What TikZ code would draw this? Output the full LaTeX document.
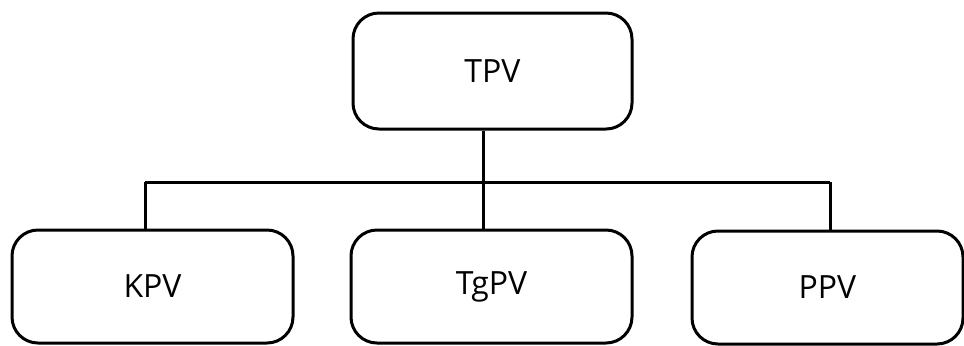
\documentclass[tikz,border=0pt]{standalone}
\usepackage{fontspec}
\setmainfont{Open Sans}
\usepackage{tikz}
\usetikzlibrary{positioning}

\begin{document}
\begin{tikzpicture}[
  x=0.5pt, y=-0.5pt,
  box/.style={draw,line width=1.5pt,rounded corners=13pt,align=center,inner sep=0pt,font=\fontsize{16}{19}\selectfont},
  topbox/.style={box,minimum width=139.5pt,minimum height=58pt},
  leafbox/.style={box,minimum width=140.5pt,minimum height=56.5pt},
  link/.style={line width=1.5pt}
]
\useasboundingbox (0,0) rectangle (964,345);
\node[topbox] (tpv) at (492.5,71) {TPV};
\node[leafbox] (kpv) at (152.5,286.5) {KPV};
\node[leafbox] (tgpv) at (491.5,286.5) {TgPV};
\node[leafbox,minimum width=135.5pt] (ppv) at (827.5,287.5) {PPV};
% bus line
\coordinate (jl) at (145,182);
\coordinate (jm) at (483,182);
\coordinate (jr) at (830,182);
\draw[link] (jl) -- (jr);
\draw[link] (tpv.south -| jm) -- (tgpv.north -| jm);
\foreach \j/\n in {jl/kpv,jr/ppv}
  \draw[link] (\j) -- (\j |- \n.north);
\end{tikzpicture}
\end{document}
